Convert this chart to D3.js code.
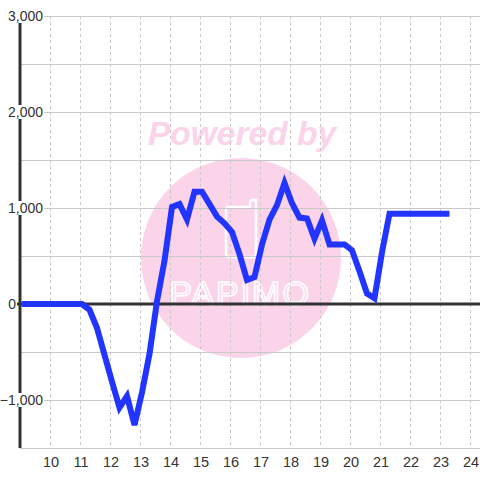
<!DOCTYPE html>
<html><head><meta charset="utf-8">
<script src="https://cdn.jsdelivr.net/npm/d3@7"></script>
<style>
html,body{margin:0;padding:0;background:#fff;}
svg{display:block;}
text{font-family:"Liberation Sans",Arial,sans-serif;}
</style></head>
<body>
<svg id="chart" width="480" height="480"></svg>
<script>
const hours = [9,9.25,9.5,9.75,10,10.25,10.5,10.75,11,11.25,11.5,11.75,12,12.25,12.5,12.75,13,13.25,13.5,13.75,14,14.25,14.5,14.75,15,15.25,15.5,15.75,16,16.25,16.5,16.75,17,17.25,17.5,17.75,18,18.25,18.5,18.75,19,19.25,19.5,19.75,20,20.25,20.5,20.75,21,21.25,21.5,21.75,22,22.25,22.5,22.75,23,23.25];
const values = [0,0,0,0,0,0,0,0,0,-60,-250,-530,-810,-1080,-960,-1260,-920,-520,30,450,1010,1040,880,1170,1170,1040,910,840,750,520,250,280,620,880,1030,1260,1050,900,890,680,870,620,620,620,560,340,110,60,540,940,940,940,940,940,940,940,940,940];
const xTicks = [10,11,12,13,14,15,16,17,18,19,20,21,22,23,24];
const yTicks = [-1500,-1000,-500,0,500,1000,1500,2000,2500,3000];
const yLabelTicks = [-1000,0,1000,2000,3000];

const svg = d3.select("#chart");
const W = 480, H = 480;
const x = d3.scaleLinear().domain([9, 24.3]).range([21, 480]);
const y = d3.scaleLinear().domain([-1500, 3000]).range([448, 16]);
const axisX = 20;

// watermark
const wm = svg.append("g");
wm.append("circle").attr("cx", 241).attr("cy", 258).attr("r", 100).attr("fill", "#fbd4ea");
wm.append("text").attr("x", 242).attr("y", 145).attr("text-anchor", "middle")
  .attr("font-size", 33.5).attr("font-weight", "bold").attr("font-style", "italic")
  .attr("fill", "#fbd4ea").text("Powered by");
wm.append("path").attr("d", "M228,207 L250,207 L250,203 Q250,200 253,200 L256,200 L256,254 Q256,257 253,257 L229,257 Q226,257 226,254 L226,210 Q226,207 228,207 Z")
  .attr("fill", "none").attr("stroke", "#fff").attr("stroke-width", 2.5);
wm.append("text").attr("x", 240).attr("y", 305).attr("text-anchor", "middle")
  .attr("font-size", 34).attr("letter-spacing", 2)
  .attr("fill", "none").attr("stroke", "#fff").attr("stroke-width", 1.6)
  .attr("font-family", "'DejaVu Sans Mono', monospace").text("PAPIMO");

// horizontal grid
svg.append("g").selectAll("line").data(yTicks.filter(d => d !== 0)).join("line")
  .attr("x1", axisX).attr("x2", W).attr("y1", d => y(d) + 0.5).attr("y2", d => y(d) + 0.5)
  .attr("stroke", "#c8c8c8").attr("stroke-width", 1);

// vertical dashed grid
svg.append("g").selectAll("line").data(xTicks).join("line")
  .attr("x1", d => Math.round(x(d)) - 0.5).attr("x2", d => Math.round(x(d)) - 0.5)
  .attr("y1", y(3000)).attr("y2", y(-1500))
  .attr("stroke", "#c8c8c8").attr("stroke-width", 1).attr("stroke-dasharray", "3,3");

// zero line
svg.append("line").attr("x1", axisX - 3).attr("x2", W).attr("y1", y(0)).attr("y2", y(0))
  .attr("stroke", "#333").attr("stroke-width", 3);

// left axis
svg.append("line").attr("x1", axisX).attr("x2", axisX).attr("y1", y(3000)).attr("y2", y(-1500))
  .attr("stroke", "#333").attr("stroke-width", 3);

// data line
const line = d3.line().x((d, i) => x(hours[i]) + 1).y(d => y(d));
svg.append("path").datum(values).attr("d", line)
  .attr("fill", "none").attr("stroke", "#2234ff").attr("stroke-width", 6)
  .attr("stroke-linejoin", "miter");

// y labels with white background
const fmt = d3.format(",");
const yl = svg.append("g");
yLabelTicks.forEach(v => {
  const g = yl.append("g");
  const t = g.append("text")
    .attr("x", v === 0 ? axisX - 4 : 43)
    .attr("y", y(v) + 5)
    .attr("text-anchor", "end")
    .attr("font-size", 14).attr("fill", "#333").text(fmt(v));
  if (v !== 0) {
    const b = t.node().getBBox();
    g.insert("rect", "text").attr("x", b.x).attr("y", b.y + 1).attr("width", b.width + 1).attr("height", b.height - 2).attr("fill", "#fff");
  }
});

// x labels
svg.append("g").selectAll("text").data(xTicks).join("text")
  .attr("x", d => x(d)).attr("y", 467).attr("text-anchor", "middle")
  .attr("font-size", 14.5).attr("fill", "#333").text(d => d);
</script>
</body></html>
